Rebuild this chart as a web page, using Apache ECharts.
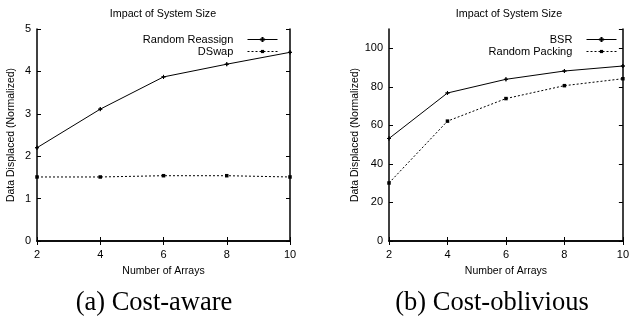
<!DOCTYPE html>
<html><head><meta charset="utf-8">
<script src="https://cdn.jsdelivr.net/npm/echarts@6/dist/echarts.min.js"></script>
<style>html,body{margin:0;padding:0;background:#fff}#c{width:632px;height:322px}</style>
</head><body><div id="c"></div>
<script>
const arrays = [2, 4, 6, 8, 10];
const randomReassign = [2.20, 3.11, 3.87, 4.17, 4.45];
const dswap = [1.51, 1.51, 1.54, 1.54, 1.51];
const bsr = [53.2, 76.8, 83.9, 88.2, 90.8];
const randomPacking = [30.1, 62.2, 73.9, 80.6, 84.2];
const chartTitle = 'Impact of System Size';
const xName = 'Number of Arrays';
const yName = 'Data Displaced (Normalized)';
const captions = ['(a) Cost-aware', '(b) Cost-oblivious'];

const pairs = (ys) => arrays.map((x, i) => [x, ys[i]]);
const F = 'Liberation Sans';
const tick = {show: true, inside: true, length: 4, lineStyle: {color: '#000'}};
function xAxes(gi) {
  return [
    {gridIndex: gi, type: 'value', min: 2, max: 10, interval: 2, name: xName, nameLocation: 'middle', nameGap: 25,
     nameTextStyle: {fontFamily: F, fontSize: 10.5, color: '#000'},
     axisLine: {lineStyle: {color: '#000', width: 1.5}}, axisTick: tick, splitLine: {show: false},
     axisLabel: {fontFamily: F, fontSize: 11, color: '#000', margin: 8}},
    {gridIndex: gi, type: 'value', position: 'top', min: 2, max: 10, interval: 2,
     axisLine: {show: true, lineStyle: {color: '#000', width: 1.5}}, axisTick: tick, axisLabel: {show: false}, splitLine: {show: false}}
  ];
}
function yAxes(gi, max, interval, nameGap) {
  return [
    {gridIndex: gi, type: 'value', min: 0, max: max, interval: interval, name: yName, nameLocation: 'middle', nameGap: nameGap,
     nameTextStyle: {fontFamily: F, fontSize: 10.5, color: '#000'},
     axisLine: {show: true, lineStyle: {color: '#000', width: 1.5}}, axisTick: tick, splitLine: {show: false},
     axisLabel: {fontFamily: F, fontSize: 11, color: '#000', margin: 6, showMaxLabel: max % interval === 0}},
    {gridIndex: gi, type: 'value', position: 'right', min: 0, max: max, interval: interval,
     axisLine: {show: true, lineStyle: {color: '#000', width: 1.5}}, axisTick: tick, axisLabel: {show: false}, splitLine: {show: false}}
  ];
}
const plusSym = 'path://M0,5L10,5L10,5.01L0,5.01ZM5,0L5.01,0L5.01,10L5,10Z';
function line(name, data, xi, yi, dashed, sym) {
  return {name, type: 'line', xAxisIndex: xi, yAxisIndex: yi, data: pairs(data),
    symbol: sym, symbolSize: dashed ? 3.5 : 4, showSymbol: true,
    lineStyle: {color: '#000', width: 1, type: dashed ? [2, 2] : 'solid'},
    itemStyle: {color: '#000', borderColor: '#000', borderWidth: dashed ? 0 : 1},
    animation: false};
}
const legendCommon = {orient: 'vertical', align: 'right', itemWidth: 30, itemHeight: 4, itemGap: 1, padding: 0,
  lineStyle: {width: 1},
  formatter: (n) => n + '   ', textStyle: {fontFamily: F, fontSize: 11, color: '#000'}};
const chart = echarts.init(document.getElementById('c'), null, {renderer: 'canvas'});
chart.setOption({
  animation: false,
  backgroundColor: '#fff',
  title: [
    {text: chartTitle, left: 158, top: 4, textAlign: 'center', textStyle: {fontFamily: F, fontSize: 10.7, fontWeight: 'normal', color: '#000'}},
    {text: chartTitle, left: 504, top: 4, textAlign: 'center', textStyle: {fontFamily: F, fontSize: 10.7, fontWeight: 'normal', color: '#000'}},
    {text: captions[0], left: 149, top: 285, textAlign: 'center', textStyle: {fontFamily: 'Liberation Serif', fontSize: 26.5, fontWeight: 'normal', color: '#000'}},
    {text: captions[1], left: 487, top: 285, textAlign: 'center', textStyle: {fontFamily: 'Liberation Serif', fontSize: 26.5, fontWeight: 'normal', color: '#000'}}
  ],
  grid: [
    {left: 37, right: 342, top: 29, bottom: 81},
    {left: 389, right: 3, top: 29, bottom: 81}
  ],
  xAxis: [...xAxes(0), ...xAxes(1)],
  yAxis: [...yAxes(0, 5, 1, 20), ...yAxes(1, 110, 20, 27)],
  legend: [
    Object.assign({data: ['Random Reassign', 'DSwap'], right: 632 - 278, top: 34}, legendCommon),
    Object.assign({data: ['BSR', 'Random Packing'], right: 15, top: 34}, legendCommon)
  ],
  series: [
    line('Random Reassign', randomReassign, 0, 0, false, plusSym),
    line('DSwap', dswap, 0, 0, true, 'rect'),
    line('BSR', bsr, 2, 2, false, plusSym),
    line('Random Packing', randomPacking, 2, 2, true, 'rect')
  ]
});
</script></body></html>
